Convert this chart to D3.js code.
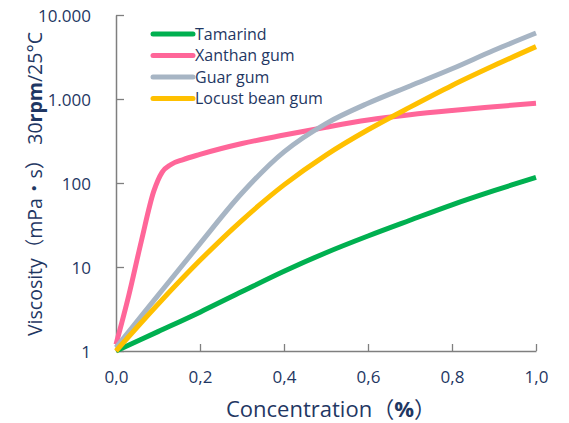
<!DOCTYPE html>
<html>
<head>
<meta charset="utf-8">
<script src="https://cdn.jsdelivr.net/npm/d3@7"></script>
<style>
  body { margin: 0; background: #fff; }
  text { font-family: "Open Sans", "Noto Sans CJK JP", sans-serif; fill: #1f3763; }
</style>
</head>
<body>
<div id="chart"></div>
<script>
// Data
const concTamarind = [0, 0.1, 0.2, 0.3, 0.4, 0.5, 0.6, 0.7, 0.8, 0.9, 1.0]
const viscTamarind = [1, 1.7, 2.9, 5.1, 8.9, 14.8, 23.4, 36, 55, 81, 117]

const concXanthan = [0, 0.03, 0.06, 0.09, 0.11, 0.13, 0.16, 0.2, 0.3, 0.4, 0.5, 0.6, 0.7, 0.8, 0.9, 1.0]
const viscXanthan = [1.2, 4.5, 20, 80, 135, 165, 190, 219, 295, 372, 462, 562, 650, 730, 808, 891]

const concGuar = [0, 0.1, 0.2, 0.3, 0.4, 0.5, 0.6, 0.7, 0.8, 0.9, 1.0]
const viscGuar = [1.1, 4.6, 19, 76, 235, 510, 890, 1430, 2290, 3800, 6100]

const concLocust = [0, 0.1, 0.2, 0.3, 0.4, 0.5, 0.6, 0.7, 0.8, 0.9, 1.0]
const viscLocust = [1, 3.6, 12, 36, 95, 215, 430, 800, 1450, 2500, 4200]

const seriesNames = ["Tamarind", "Xanthan gum", "Guar gum", "Locust bean gum"]
const seriesColors = ["#00b050", "#ff6699", "#a7b5c4", "#ffc000"]

const xTicks = [0, 0.2, 0.4, 0.6, 0.8, 1.0]
const yTicks = [1, 10, 100, 1000, 10000]

// Layout
const width = 569
const height = 423
const margin = { top: 15, right: 33, bottom: 72, left: 116 }
const graphWidth = width - margin.left - margin.right
const graphHeight = height - margin.top - margin.bottom

const locale = d3.formatLocale({ decimal: ",", thousands: ".", grouping: [3], currency: ["", ""] })

const svg = d3.select("#chart")
    .append("svg")
    .attr("width", width)
    .attr("height", height)

const g = svg.append("g")
    .attr("transform", `translate(${margin.left}, ${margin.top})`)

const x = d3.scaleLinear().domain([0, 1]).range([0, graphWidth])
const y = d3.scaleLog().domain([1, 10000]).range([graphHeight, 0])

// Axes
const xAxis = d3.axisBottom(x)
    .tickValues(xTicks)
    .tickFormat(locale.format(".1f"))
    .tickSizeInner(-7)
    .tickSizeOuter(0)
    .tickPadding(20)

const yAxis = d3.axisLeft(y)
    .tickValues(yTicks)
    .tickFormat(locale.format(",d"))
    .tickSizeInner(-8)
    .tickSizeOuter(0)
    .tickPadding(25)

const xAxisGroup = g.append("g")
    .attr("transform", `translate(0, ${graphHeight})`)
    .call(xAxis)

const yAxisGroup = g.append("g").call(yAxis)

;[xAxisGroup, yAxisGroup].forEach(ax => {
    ax.select(".domain").attr("stroke", "#7f7f7f").attr("stroke-width", 1.5)
    ax.selectAll(".tick line").attr("stroke", "#7f7f7f").attr("stroke-width", 1.3)
    ax.selectAll("text")
        .style("font-family", "'Open Sans', sans-serif")
        .style("font-size", "17px")
        .attr("fill", "#1f3763")
})
yAxisGroup.selectAll("text").attr("dy", "0.36em")

// Lines - smooth curves (xanthan keeps monotone so the knee doesn't overshoot)
const smoothLine = d3.line()
    .x(d => x(d[0]))
    .y(d => y(d[1]))
    .curve(d3.curveCatmullRom.alpha(0.5))

const kneeLine = d3.line()
    .x(d => x(d[0]))
    .y(d => y(d[1]))
    .curve(d3.curveMonotoneX)

const series = [
    d3.zip(concTamarind, viscTamarind),
    d3.zip(concXanthan, viscXanthan),
    d3.zip(concGuar, viscGuar),
    d3.zip(concLocust, viscLocust)
]

g.selectAll(".series")
    .data(series)
    .enter()
    .append("path")
    .attr("class", "series")
    .attr("d", (d, i) => i === 1 ? kneeLine(d) : smoothLine(d))
    .attr("fill", "none")
    .attr("stroke", (d, i) => seriesColors[i])
    .attr("stroke-width", 5)
    .attr("stroke-linejoin", "round")

// Legend
const legend = svg.append("g").attr("transform", "translate(153, 34)")
seriesNames.forEach((name, i) => {
    const row = legend.append("g").attr("transform", `translate(0, ${i * 21.5})`)
    row.append("line")
        .attr("x1", 0).attr("x2", 40)
        .attr("stroke", seriesColors[i])
        .attr("stroke-width", 5)
        .attr("stroke-linecap", "round")
    row.append("text")
        .attr("x", 42)
        .attr("dy", "0.36em")
        .style("font-size", "16px")
        .text(name)
})

// Axis titles
const xTitle = svg.append("text")
    .attr("x", 331)
    .attr("y", 417)
    .attr("text-anchor", "middle")
    .style("font-size", "22px")
xTitle.append("tspan").text("Concentration（")
xTitle.append("tspan").style("font-weight", "bold").text("%")
xTitle.append("tspan").text("）")

const yTitle = svg.append("text")
    .attr("transform", "translate(42, 184) rotate(-90)")
    .attr("text-anchor", "middle")
    .style("font-size", "19.5px")
yTitle.append("tspan").text("Viscosity（mPa・s）  30")
yTitle.append("tspan").style("font-weight", "bold").text("rpm")
yTitle.append("tspan").text("/25°C")
</script>
</body>
</html>
